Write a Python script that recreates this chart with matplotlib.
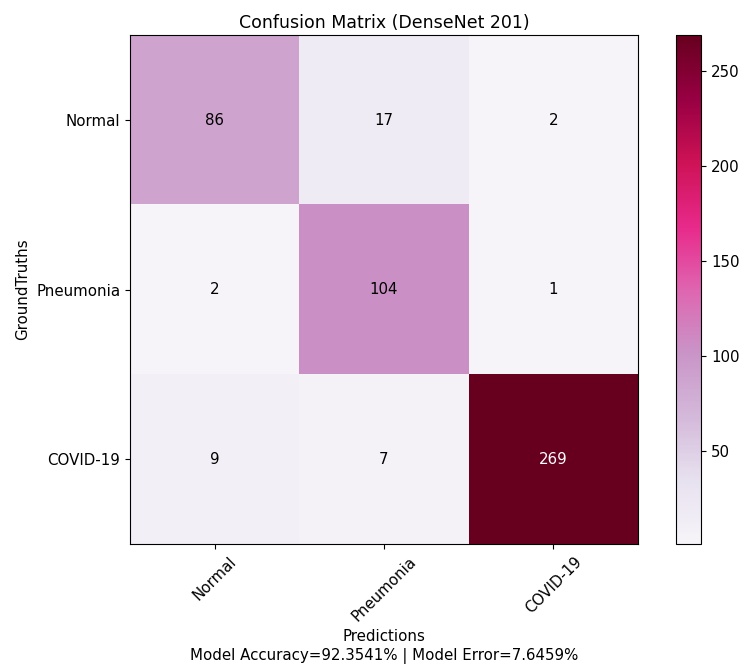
import matplotlib
matplotlib.use("Agg")
import matplotlib.pyplot as plt
import numpy as np

plt.rcParams["font.size"] = 10.8

classes = ["Normal", "Pneumonia", "COVID-19"]
cm = np.array([
    [86, 17, 2],
    [2, 104, 1],
    [9, 7, 269],
])
accuracy = 92.3541
error = 7.6459

fig = plt.figure(figsize=(7.42, 6.65), dpi=100)
ax = fig.add_axes([0.175, 0.182, 0.685, 0.765])
cax = fig.add_axes([0.911, 0.182, 0.034, 0.765])

im = ax.imshow(cm, interpolation="nearest", cmap="PuRd", aspect="auto")
cb = fig.colorbar(im, cax=cax)
cb.set_ticks([50, 100, 150, 200, 250])

ax.set_title("Confusion Matrix (DenseNet 201)", fontsize=12.5, pad=5)
ax.set_xticks(np.arange(len(classes)))
ax.set_xticklabels(classes, rotation=45)
ax.set_yticks(np.arange(len(classes)))
ax.set_yticklabels(classes)

thresh = cm.max() / 2.0
for i in range(cm.shape[0]):
    for j in range(cm.shape[1]):
        ax.text(j, i, str(cm[i, j]), ha="center", va="center",
                color="white" if cm[i, j] > thresh else "black")

ax.set_ylabel("GroundTruths")
ax.set_xlabel("Predictions\nModel Accuracy={:.4f}% | Model Error={:.4f}%".format(accuracy, error),
              linespacing=1.3)

fig.savefig("out.png", dpi=100)
